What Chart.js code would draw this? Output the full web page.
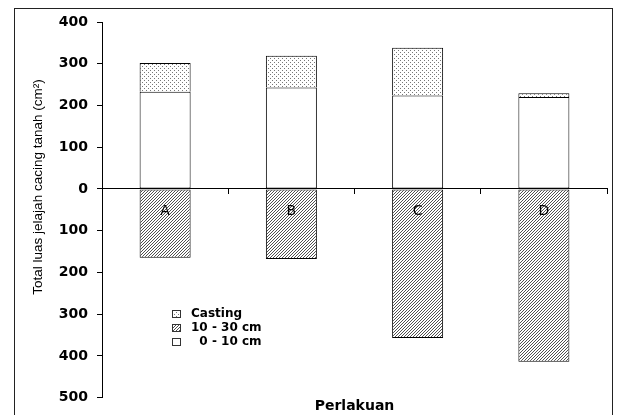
<!DOCTYPE html>
<html>
<head>
<meta charset="utf-8">
<script src="https://cdn.jsdelivr.net/npm/chart.js@4.4.1/dist/chart.umd.min.js"></script>
<style>
  html, body { margin: 0; padding: 0; background: #fff; }
  #wrap { width: 617px; height: 415px; position: relative; }
</style>
</head>
<body>
<div id="wrap"><canvas id="chart"></canvas></div>
<script>
// Data
const perlakuan = ['A', 'B', 'C', 'D'];
const lapisan0_10 = [233, 243, 224, 220];     // 0 - 10 cm (above zero)
const casting = [69, 76, 114, 9];             // stacked on top of 0 - 10 cm
const lapisan10_30 = [165, 168, 357, 414];    // 10 - 30 cm (drawn below zero)
const yTicks = [400, 300, 200, 100, 0, -100, -200, -300, -400, -500];

// fill patterns like the old Excel ones
function makePattern(size, pixels, color) {
    const c = document.createElement('canvas');
    c.width = size; c.height = size;
    const g = c.getContext('2d');
    g.fillStyle = '#fff';
    g.fillRect(0, 0, size, size);
    g.fillStyle = color;
    pixels.forEach(p => g.fillRect(p[0], p[1], 1, 1));
    return document.getElementById('chart').getContext('2d').createPattern(c, 'repeat');
}
const hatch = makePattern(3, [[0, 2], [1, 1], [2, 0]], '#505050');
const dots = makePattern(4, [[0, 0], [2, 2]], '#777');

const frame = {
    id: 'frame',
    beforeDraw(chart) {
        const ctx = chart.ctx;
        ctx.save();
        ctx.fillStyle = '#fff';
        ctx.fillRect(0, 0, chart.width, chart.height);
        ctx.strokeStyle = '#222';
        ctx.lineWidth = 1;
        ctx.strokeRect(14.5, 8.5, 598, 420);
        ctx.restore();
    },
    afterDatasetsDraw(chart) {
        // category letters sit inside the lower bars
        const ctx = chart.ctx;
        const x = chart.scales.x;
        ctx.save();
        ctx.fillStyle = '#000';
        ctx.font = '14px "DejaVu Sans", sans-serif';
        ctx.textAlign = 'center';
        ctx.textBaseline = 'middle';
        perlakuan.forEach((p, i) => ctx.fillText(p, x.getPixelForValue(i), 211));
        ctx.restore();
    },
    afterDraw(chart) {
        const ctx = chart.ctx;
        ctx.save();
        // y axis title
        ctx.translate(38, 187);
        ctx.rotate(-Math.PI / 2);
        ctx.fillStyle = '#000';
        ctx.font = '13.5px "Liberation Sans", Arial, sans-serif';
        ctx.textAlign = 'center';
        ctx.textBaseline = 'middle';
        ctx.fillText('Total luas jelajah cacing tanah (cm²)', 0, 0);
        ctx.restore();

        // legend inside the plot
        const order = [1, 2, 0];
        const names = ['Casting', '10 - 30 cm', '  0 - 10 cm'];
        ctx.save();
        ctx.font = 'bold 12px "DejaVu Sans", sans-serif';
        ctx.textBaseline = 'middle';
        order.forEach((di, i) => {
            const y = 314 + i * 14;
            ctx.fillStyle = chart.data.datasets[di].backgroundColor;
            ctx.fillRect(172, y - 4, 9, 8);
            ctx.strokeStyle = '#333';
            ctx.strokeRect(172.5, y - 3.5, 8, 7);
            ctx.fillStyle = '#000';
            ctx.fillText(names[i], 191, y);
        });
        ctx.restore();
    }
};

new Chart(document.getElementById('chart'), {
    type: 'bar',
    data: {
        labels: perlakuan,
        datasets: [
            {
                label: '0 - 10 cm',
                data: lapisan0_10,
                backgroundColor: '#ffffff',
                borderColor: '#000',
                borderWidth: 1,
                borderSkipped: false,
                barPercentage: 0.404,
                categoryPercentage: 1
            },
            {
                label: 'Casting',
                data: casting,
                backgroundColor: dots,
                borderColor: '#000',
                borderWidth: 1,
                borderSkipped: 'start',
                barPercentage: 0.404,
                categoryPercentage: 1
            },
            {
                label: '10 - 30 cm',
                data: lapisan10_30.map(v => -v),
                backgroundColor: hatch,
                borderColor: '#000',
                borderWidth: 1,
                borderSkipped: false,
                barPercentage: 0.404,
                categoryPercentage: 1
            }
        ]
    },
    options: {
        responsive: true,
        maintainAspectRatio: false,
        animation: false,
        layout: { padding: { left: 0, right: 10, top: 22, bottom: 0 } },
        plugins: {
            legend: { display: false },
            tooltip: { enabled: false },
            title: {
                display: true,
                text: 'Perlakuan',
                position: 'bottom',
                fullSize: false,
                color: '#000',
                font: { family: '"DejaVu Sans", sans-serif', size: 14, weight: 'bold' },
                padding: { top: 0, bottom: 0 }
            }
        },
        scales: {
            x: {
                stacked: true,
                position: { y: 0 },
                z: 1,
                grid: {
                    offset: true,
                    drawOnChartArea: false,
                    drawTicks: true,
                    tickLength: 5,
                    color: '#000'
                },
                border: { display: true, color: '#000', width: 1 },
                ticks: { display: false }
            },
            y: {
                stacked: true,
                min: -500,
                max: 400,
                afterFit(scale) { scale.width = 102; },
                afterBuildTicks(scale) { scale.ticks = yTicks.map(v => ({ value: v })); },
                grid: {
                    drawOnChartArea: false,
                    drawTicks: true,
                    tickLength: 5,
                    color: '#000'
                },
                border: { display: true, color: '#000', width: 1 },
                ticks: {
                    color: '#000',
                    padding: 9,
                    font: { family: '"DejaVu Sans", sans-serif', size: 14, weight: 'bold' },
                    callback: v => Math.abs(v)
                }
            }
        }
    },
    plugins: [frame]
});
</script>
</body>
</html>
